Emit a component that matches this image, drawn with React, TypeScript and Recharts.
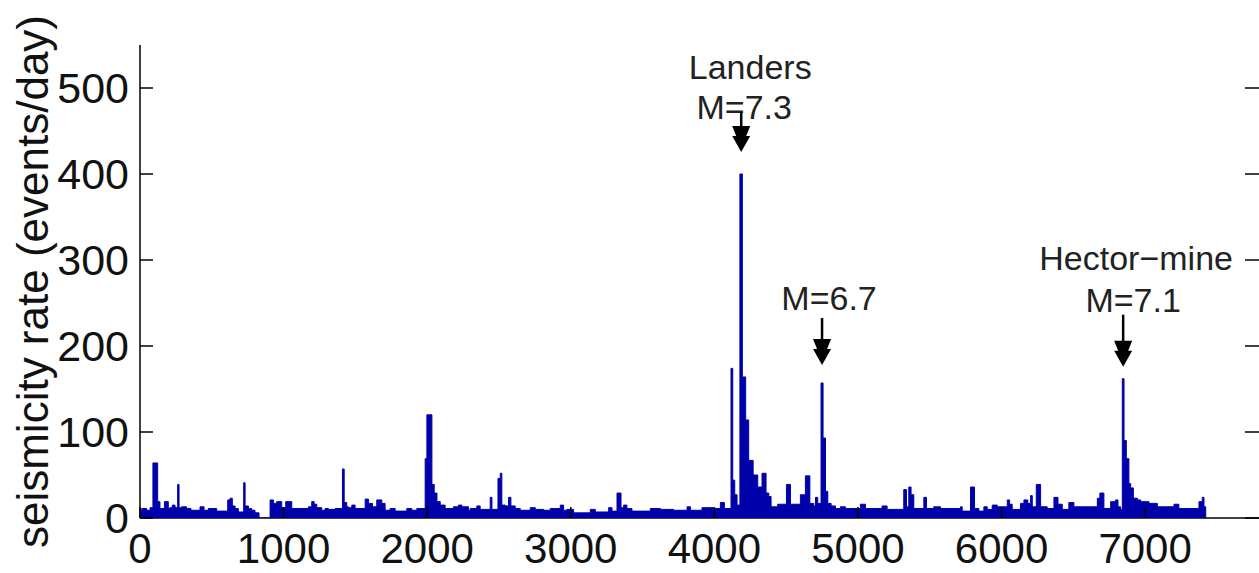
import React from 'react';
import {
  ComposedChart,
  Area,
  XAxis,
  YAxis,
  ReferenceDot,
} from 'recharts';

// daily seismicity rate, drawn as stairs: [day, events/day from that day on]
const rateSteps: [number, number][] = [
  [0, 9], [12, 11], [46, 9], [70, 12], [90, 64], [123, 19], [139, 11], [170, 19],
  [197, 11], [209, 12], [225, 15], [244, 12], [262, 39], [272, 12], [290, 13],
  [325, 11], [355, 9], [418, 13], [446, 9], [476, 11], [534, 8], [611, 21],
  [627, 23], [643, 14], [662, 11], [685, 7], [722, 41], [732, 14], [755, 11],
  [778, 9], [801, 6], [829, 0], [906, 21], [929, 17], [952, 19], [987, 12],
  [1015, 19], [1057, 11], [1173, 13], [1196, 19], [1213, 16], [1231, 12],
  [1266, 9], [1289, 11], [1312, 10], [1359, 11], [1410, 57], [1422, 18],
  [1440, 13], [1452, 12], [1475, 15], [1498, 11], [1568, 22], [1591, 17],
  [1619, 13], [1649, 21], [1684, 17], [1707, 9], [1742, 11], [1777, 8],
  [1858, 11], [1893, 9], [1928, 11], [1986, 69], [1998, 120], [2033, 39],
  [2049, 29], [2068, 19], [2091, 15], [2125, 11], [2183, 13], [2218, 15],
  [2242, 13], [2288, 9], [2300, 11], [2346, 14], [2369, 10], [2439, 24],
  [2451, 10], [2493, 46], [2509, 52], [2520, 15], [2544, 14], [2567, 24],
  [2583, 14], [2613, 11], [2648, 9], [2718, 12], [2753, 10], [2811, 9],
  [2857, 11], [2927, 15], [2950, 9], [2973, 10], [3020, 6], [3136, 10],
  [3171, 7], [3264, 12], [3287, 8], [3322, 29], [3350, 12], [3368, 15],
  [3391, 11], [3426, 8], [3554, 11], [3624, 10], [3717, 9], [3810, 13],
  [3833, 9], [3914, 12], [3995, 11], [4042, 18], [4070, 11], [4116, 174],
  [4128, 44], [4142, 27], [4158, 15], [4178, 400], [4195, 164], [4218, 114],
  [4239, 67], [4270, 50], [4302, 36], [4332, 52], [4360, 29], [4379, 25],
  [4395, 13], [4441, 16], [4502, 39], [4530, 16], [4599, 27], [4634, 49],
  [4665, 17], [4692, 14], [4704, 24], [4720, 17], [4743, 157], [4757, 93],
  [4774, 31], [4790, 17], [4813, 14], [4843, 11], [4878, 13], [4913, 11],
  [5017, 16], [5052, 11], [5168, 14], [5203, 10], [5319, 33], [5338, 13],
  [5354, 36], [5370, 27], [5389, 11], [5459, 24], [5477, 11], [5528, 13],
  [5575, 11], [5714, 13], [5726, 8], [5784, 36], [5812, 11], [5842, 8],
  [5877, 13], [5900, 10], [5935, 15], [5970, 13], [6040, 21], [6056, 16],
  [6074, 10], [6132, 17], [6156, 21], [6183, 17], [6202, 26], [6214, 13],
  [6242, 39], [6272, 13], [6318, 11], [6365, 24], [6393, 16], [6423, 10],
  [6469, 18], [6504, 13], [6667, 23], [6685, 29], [6713, 11], [6760, 19],
  [6794, 21], [6811, 13], [6829, 10], [6841, 162], [6853, 90], [6869, 69],
  [6887, 40], [6899, 35], [6918, 23], [6946, 21], [6969, 19], [7027, 17],
  [7085, 13], [7201, 16], [7235, 11], [7375, 19], [7398, 24], [7410, 13],
  [7422, 0],
];

const xTicks = [0, 1000, 2000, 3000, 4000, 5000, 6000, 7000];
const yTicks = [0, 100, 200, 300, 400, 500];

// annotated mainshocks
const quakeDays = [4187, 4750, 6847];
const quakeRates = [400, 157, 162];
const quakeLabels = [['Landers', 'M=7.3'], ['M=6.7'], ['Hector\u2212mine', 'M=7.1']];

// drawing offsets for each annotation (pixels, relative to the peak)
const annLayout = [
  { tip: 22, top: 62, text: [[9, 95], [3, 55]] },
  { tip: 18, top: 65, text: [[7, 73]] },
  { tip: 12, top: 64, text: [[13, 109], [10, 67]] },
];

const FONT = '"Liberation Sans", Arial, Helvetica, sans-serif';
const BLUE = '#0000aa';

const data = rateSteps.map(([day, rate]) => ({ day, rate }));

const BottomTick = (props: any) => {
  const { x, y, payload } = props;
  return (
    <g>
      <line x1={x} y1={y} x2={x} y2={y - 11} stroke="#000" strokeWidth={1.5} />
      <text x={x} y={y + 45} textAnchor="middle" fontSize={42} fill="#111" fontFamily={FONT}>
        {payload.value}
      </text>
    </g>
  );
};

const TopTick = (props: any) => {
  const { x, y } = props;
  return <line x1={x} y1={y} x2={x} y2={y + 12} stroke="#000" strokeWidth={1.5} />;
};

const LeftTick = (props: any) => {
  const { x, y, payload } = props;
  return (
    <g>
      <line x1={x} y1={y} x2={x + 13} y2={y} stroke="#000" strokeWidth={1.5} />
      <text x={x - 11} y={y} dy="0.36em" textAnchor="end" fontSize={43} fill="#111" fontFamily={FONT}>
        {payload.value}
      </text>
    </g>
  );
};

const RightTick = (props: any) => {
  const { x, y } = props;
  return <line x1={x} y1={y} x2={x - 15} y2={y} stroke="#000" strokeWidth={1.5} />;
};

const renderYLabel = (props: any) => {
  const vb = props.viewBox;
  const x = vb.x + 48;
  const y = vb.y + vb.height / 2;
  return (
    <text
      x={x}
      y={y}
      transform={`rotate(-90, ${x}, ${y})`}
      textAnchor="middle"
      fontSize={44}
      fill="#111"
      fontFamily={FONT}
    >
      seismicity rate (events/day)
    </text>
  );
};

const makeArrow = (i: number) => (props: any) => {
  const { cx, cy } = props;
  const lay = annLayout[i];
  const tipY = cy - lay.tip;
  const topY = cy - lay.top;
  return (
    <g>
      {quakeLabels[i].map((t, k) => (
        <text
          key={t}
          x={cx + lay.text[k][0]}
          y={cy - lay.text[k][1]}
          textAnchor="middle"
          fontSize={34}
          fill="#222"
          fontFamily={FONT}
        >
          {t}
        </text>
      ))}
      <line x1={cx} y1={topY} x2={cx} y2={tipY - 10} stroke="#000" strokeWidth={2.5} />
      <path
        d={`M${cx},${tipY} L${cx - 9},${tipY - 16} L${cx - 5},${tipY - 16} L${cx - 9},${tipY - 26} L${cx + 9},${tipY - 26} L${cx + 5},${tipY - 16} L${cx + 9},${tipY - 16} Z`}
        fill="#000"
      />
    </g>
  );
};

export default function App() {
  return (
    <div
      style={{
        position: 'absolute',
        top: 0,
        left: 0,
        width: 1259,
        height: 573,
        overflow: 'hidden',
        background: '#fff',
      }}
    >
      <ComposedChart
        width={1262}
        height={573}
        data={data}
        margin={{ top: 45, right: 0, bottom: 0, left: 0 }}
      >
        <XAxis
          xAxisId="b"
          type="number"
          dataKey="day"
          domain={[0, 7800]}
          allowDataOverflow
          ticks={xTicks}
          interval={0}
          height={55}
          tickSize={0}
          tickMargin={0}
          tickLine={false}
          axisLine={{ stroke: '#000', strokeWidth: 1.5 }}
          tick={<BottomTick />}
        />
        <XAxis
          xAxisId="t"
          orientation="top"
          type="number"
          dataKey="day"
          domain={[0, 7800]}
          allowDataOverflow
          ticks={xTicks}
          interval={0}
          height={0}
          tickSize={0}
          tickMargin={0}
          tickLine={false}
          axisLine={{ stroke: '#000', strokeWidth: 1.5 }}
          tick={<TopTick />}
        />
        <YAxis
          yAxisId="l"
          type="number"
          domain={[0, 550]}
          allowDataOverflow
          ticks={yTicks}
          interval={0}
          width={140}
          tickSize={0}
          tickMargin={0}
          tickLine={false}
          axisLine={{ stroke: '#000', strokeWidth: 1.5 }}
          tick={<LeftTick />}
          label={{ content: renderYLabel }}
        />
        <YAxis
          yAxisId="r"
          orientation="right"
          type="number"
          domain={[0, 550]}
          allowDataOverflow
          ticks={yTicks}
          interval={0}
          width={2}
          tickSize={0}
          tickMargin={0}
          tickLine={false}
          axisLine={{ stroke: '#000', strokeWidth: 1.5 }}
          tick={<RightTick />}
        />
        <Area
          xAxisId="b"
          yAxisId="l"
          type="stepAfter"
          dataKey="rate"
          stroke={BLUE}
          strokeWidth={1}
          fill={BLUE}
          fillOpacity={1}
          dot={false}
          activeDot={false}
          isAnimationActive={false}
          zIndex={600}
        />
        {quakeDays.map((d, i) => (
          <ReferenceDot
            key={d}
            xAxisId="b"
            yAxisId="l"
            x={d}
            y={quakeRates[i]}
            r={0}
            shape={makeArrow(i)}
          />
        ))}
      </ComposedChart>
    </div>
  );
}
